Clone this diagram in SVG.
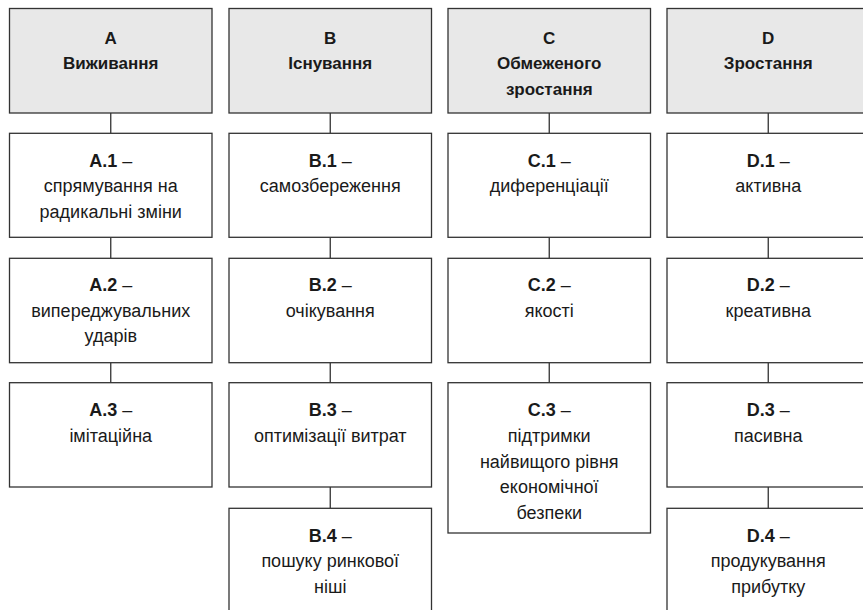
<svg xmlns="http://www.w3.org/2000/svg" width="863" height="610" viewBox="0 0 863 610">
<style>
.hd{fill:#e8e8e8;stroke:#333;stroke-width:1.3}
.bx{fill:#fff;stroke:#333;stroke-width:1.3}
.ln{stroke:#333;stroke-width:1.3;fill:none}
text{font-family:"Liberation Sans",Arial,sans-serif;fill:#1a1a1a;text-anchor:middle}
.b{font-weight:bold;font-size:17px}
.t{font-size:18px}
.tb{font-weight:bold}
</style>
<rect width="863" height="610" fill="#fff"/>
<g id="connectors">
<path class="ln" d="M110.75 113V133.3M110.75 237.3V258.3M110.75 362.7V382.7"/>
<path class="ln" d="M330.25 113V133.3M330.25 237.3V258.3M330.25 362.7V382.7M330.25 487V508.3"/>
<path class="ln" d="M549.25 113V133.3M549.25 237.3V258.3M549.25 362.7V382.7"/>
<path class="ln" d="M768.25 113V133.3M768.25 237.3V258.3M768.25 362.7V382.7M768.25 487V508.3"/>
</g>
<g id="A">
<rect class="hd" x="9.5" y="8.5" width="202.5" height="104.5"/>
<text class="b" x="110.75" y="43.5">A</text>
<text class="b" x="110.75" y="69">Виживання</text>
</g>
<g id="B">
<rect class="hd" x="229" y="8.5" width="202.5" height="104.5"/>
<text class="b" x="330.25" y="43.5">B</text>
<text class="b" x="330.25" y="69">Існування</text>
</g>
<g id="C">
<rect class="hd" x="448" y="8.5" width="202.5" height="104.5"/>
<text class="b" x="549.25" y="43.5">C</text>
<text class="b" x="549.25" y="69">Обмеженого</text>
<text class="b" x="549.25" y="94.5">зростання</text>
</g>
<g id="D">
<rect class="hd" x="667" y="8.5" width="202.5" height="104.5"/>
<text class="b" x="768.25" y="43.5">D</text>
<text class="b" x="768.25" y="69">Зростання</text>
</g>
<g id="A1">
<rect class="bx" x="9.5" y="133.3" width="202.5" height="104"/>
<text class="t" x="110.75" y="166.7"><tspan class="tb">A.1</tspan> –</text>
<text class="t" x="110.75" y="192.4">спрямування на</text>
<text class="t" x="110.75" y="218">радикальні зміни</text>
</g>
<g id="A2">
<rect class="bx" x="9.5" y="258.3" width="202.5" height="104.4"/>
<text class="t" x="110.75" y="291.2"><tspan class="tb">A.2</tspan> –</text>
<text class="t" x="110.75" y="316.8">випереджувальних</text>
<text class="t" x="110.75" y="342.4">ударів</text>
</g>
<g id="A3">
<rect class="bx" x="9.5" y="382.7" width="202.5" height="104.3"/>
<text class="t" x="110.75" y="416.4"><tspan class="tb">A.3</tspan> –</text>
<text class="t" x="110.75" y="442">імітаційна</text>
</g>
<g id="B1">
<rect class="bx" x="229" y="133.3" width="202.5" height="104"/>
<text class="t" x="330.25" y="166.7"><tspan class="tb">B.1</tspan> –</text>
<text class="t" x="330.25" y="192.4">самозбереження</text>
</g>
<g id="B2">
<rect class="bx" x="229" y="258.3" width="202.5" height="104.4"/>
<text class="t" x="330.25" y="291.2"><tspan class="tb">B.2</tspan> –</text>
<text class="t" x="330.25" y="316.8">очікування</text>
</g>
<g id="B3">
<rect class="bx" x="229" y="382.7" width="202.5" height="104.3"/>
<text class="t" x="330.25" y="416.4"><tspan class="tb">B.3</tspan> –</text>
<text class="t" x="330.25" y="442">оптимізації витрат</text>
</g>
<g id="B4">
<rect class="bx" x="229" y="508.3" width="202.5" height="130"/>
<text class="t" x="330.25" y="541.5"><tspan class="tb">B.4</tspan> –</text>
<text class="t" x="330.25" y="567.1">пошуку ринкової</text>
<text class="t" x="330.25" y="592.7">ніші</text>
</g>
<g id="C1">
<rect class="bx" x="448" y="133.3" width="202.5" height="104"/>
<text class="t" x="549.25" y="166.7"><tspan class="tb">C.1</tspan> –</text>
<text class="t" x="549.25" y="192.4">диференціації</text>
</g>
<g id="C2">
<rect class="bx" x="448" y="258.3" width="202.5" height="104.4"/>
<text class="t" x="549.25" y="291.2"><tspan class="tb">C.2</tspan> –</text>
<text class="t" x="549.25" y="316.8">якості</text>
</g>
<g id="C3">
<rect class="bx" x="448" y="382.7" width="202.5" height="150.3"/>
<text class="t" x="549.25" y="416.4"><tspan class="tb">C.3</tspan> –</text>
<text class="t" x="549.25" y="442">підтримки</text>
<text class="t" x="549.25" y="467.6">найвищого рівня</text>
<text class="t" x="549.25" y="493.2">економічної</text>
<text class="t" x="549.25" y="518.8">безпеки</text>
</g>
<g id="D1">
<rect class="bx" x="667" y="133.3" width="202.5" height="104"/>
<text class="t" x="768.25" y="166.7"><tspan class="tb">D.1</tspan> –</text>
<text class="t" x="768.25" y="192.4">активна</text>
</g>
<g id="D2">
<rect class="bx" x="667" y="258.3" width="202.5" height="104.4"/>
<text class="t" x="768.25" y="291.2"><tspan class="tb">D.2</tspan> –</text>
<text class="t" x="768.25" y="316.8">креативна</text>
</g>
<g id="D3">
<rect class="bx" x="667" y="382.7" width="202.5" height="104.3"/>
<text class="t" x="768.25" y="416.4"><tspan class="tb">D.3</tspan> –</text>
<text class="t" x="768.25" y="442">пасивна</text>
</g>
<g id="D4">
<rect class="bx" x="667" y="508.3" width="202.5" height="130"/>
<text class="t" x="768.25" y="541.5"><tspan class="tb">D.4</tspan> –</text>
<text class="t" x="768.25" y="567.1">продукування</text>
<text class="t" x="768.25" y="592.7">прибутку</text>
</g>
</svg>
